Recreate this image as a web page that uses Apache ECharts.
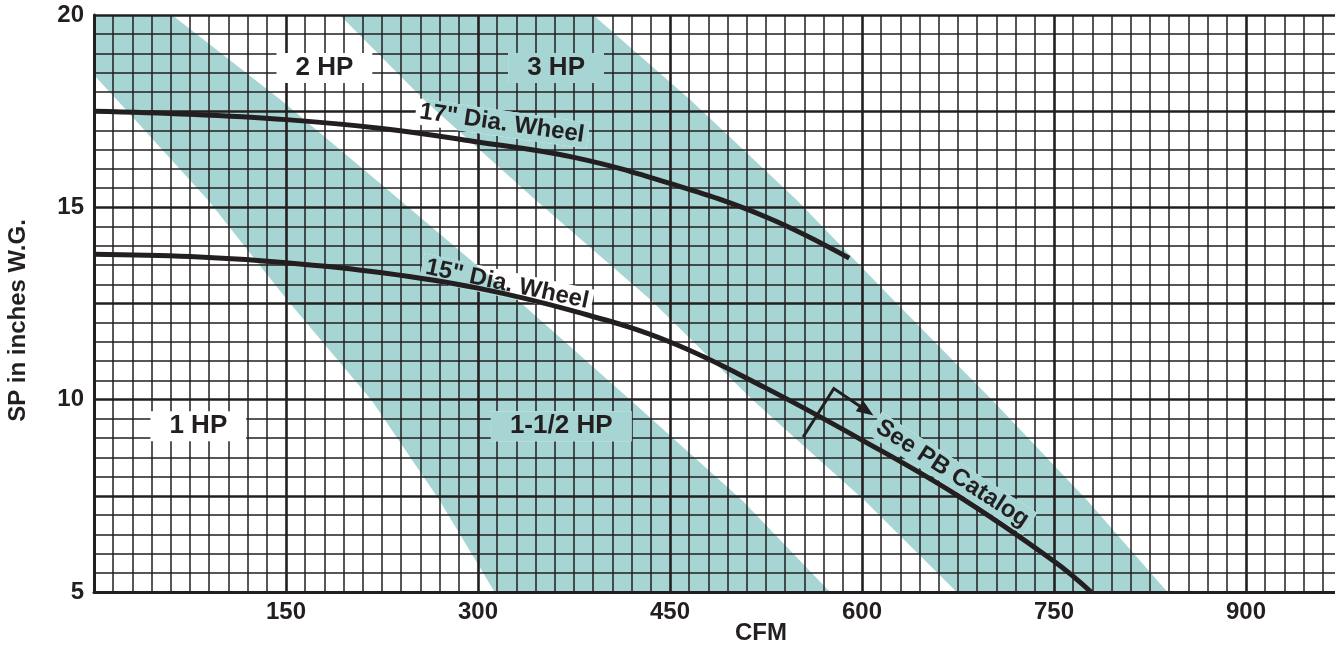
<!DOCTYPE html>
<html><head><meta charset="utf-8">
<script src="https://cdn.jsdelivr.net/npm/echarts@6/dist/echarts.min.js"></script>
<style>html,body{margin:0;padding:0;background:#fff}#c{width:1335px;height:645px}</style>
</head><body><div id="c"></div>
<script>
// ---------- data ----------
const xTickLabels = [150, 300, 450, 600, 750, 900];
const yTickLabels = [5, 10, 15, 20];

// wheel performance curves [CFM, SP]
const wheel17 = [[0,17.5],[75,17.42],[150,17.28],[225,17.05],[300,16.7],[375,16.3],[450,15.62],[525,14.75],[590,13.68]];
const wheel15 = [[0,13.78],[75,13.72],[150,13.56],[225,13.3],[300,12.9],[375,12.3],[450,11.5],[525,10.3],[600,8.95],[675,7.5],[750,5.8],[779,5.0]];

// horsepower bands: edges [CFM, SP], top to bottom
const band1Left  = [[0,20],[0,18.44],[18,17.79],[89,15.19],[151,12.59],[217,9.98],[270,7.38],[313,5]];
const band1Right = [[61,20],[146,17.79],[239,15.19],[331,12.59],[419.5,9.98],[506.5,7.38],[575,5]];
const band2Left  = [[192,20],[258,17.79],[345,15.19],[435,12.59],[515,9.98],[602,7.38],[674,5]];
const band2Right = [[390,20],[466,17.79],[549,15.19],[624.5,12.59],[702,9.98],[776,7.38],[838.6,5]];

// annotations
const noteTexts = ['2 HP', '3 HP', '1 HP', '1-1/2 HP', '17" Dia. Wheel', '15" Dia. Wheel', 'See PB Catalog'];
const noteX     = [180, 361, 81.5, 365, 318.7, 322.7, 670.6];
const noteY     = [18.62, 18.62, 9.31, 9.31, 17.18, 13.0, 8.08];
const noteAngle = [0, 0, 0, 0, -8.2, -12, -33];
const noteKind  = ['hp', 'hp', 'hp', 'hp', 'curve', 'curve', 'curve'];
const arrowPath = [[554, 9.03], [578, 10.29], [609, 9.59]];

// ---------- styles ----------
const INK = '#231f20';
const TEAL = '#a7d5d4';
const FAMILY = '"Liberation Sans", Arial, Helvetica, sans-serif';
const noteStyle = { hp: { size: 26, padX: 19, padY: 2 }, curve: { size: 24, padX: 4, padY: 1 } };

const bandPolys = [
  band1Left.concat(band1Right.slice().reverse()),
  band2Left.concat(band2Right.slice().reverse())
];

const mctx = document.createElement('canvas').getContext('2d');
function textWidth(t, font) { mctx.font = font; return mctx.measureText(t).width; }

function clipPoly(subject, clip, center) {
  let out = subject;
  for (let i = 0; i < clip.length; i++) {
    const A = clip[i], B = clip[(i + 1) % clip.length];
    const cr = p => (B[0] - A[0]) * (p[1] - A[1]) - (B[1] - A[1]) * (p[0] - A[0]);
    const sgn = cr(center) >= 0 ? 1 : -1;
    const inside = p => cr(p) * sgn >= 0;
    const inter = (P, Q) => {
      const a = cr(P), b = cr(Q);
      const t = a / (a - b);
      return [P[0] + t * (Q[0] - P[0]), P[1] + t * (Q[1] - P[1])];
    };
    const input = out; out = [];
    if (!input.length) break;
    for (let j = 0; j < input.length; j++) {
      const P = input[j], Q = input[(j + 1) % input.length];
      const pin = inside(P), qin = inside(Q);
      if (pin) { out.push(P); if (!qin) out.push(inter(P, Q)); }
      else if (qin) { out.push(inter(P, Q)); }
    }
  }
  return out;
}

function noteGeom(i, api) {
  const c = api.coord([noteX[i], noteY[i]]);
  const st = noteStyle[noteKind[i]];
  const font = 'bold ' + st.size + 'px ' + FAMILY;
  const w = textWidth(noteTexts[i], font);
  const hw = w / 2 + st.padX, hh = st.size / 2 + st.padY;
  const r = noteAngle[i] * Math.PI / 180;
  const d = [Math.cos(r), -Math.sin(r)], n = [Math.sin(r), Math.cos(r)];
  const rect = [[-1,-1],[1,-1],[1,1],[-1,1]].map(([a, b]) =>
    [c[0] + a * hw * d[0] + b * hh * n[0], c[1] + a * hw * d[1] + b * hh * n[1]]);
  return { c, font, r, rect };
}

const noteData = noteTexts.map((t, i) => [noteX[i], noteY[i], i]);

const chart = echarts.init(document.getElementById('c'), null, { renderer: 'canvas' });
chart.setOption({
  animation: false,
  backgroundColor: '#fff',
  grid: { left: 94, top: 15, width: 1344, height: 577, outerBoundsMode: 'none', containLabel: false },
  xAxis: {
    type: 'value', min: 0, max: 1050, interval: 150, z: 3,
    axisLine: { show: true, onZero: false, lineStyle: { color: INK, width: 3 } },
    axisTick: { show: false },
    axisLabel: { fontSize: 24, fontWeight: 'bold', color: INK, fontFamily: FAMILY, margin: 8,
      formatter: v => xTickLabels.includes(v) ? String(v) : '' },
    splitLine: { show: true, lineStyle: { color: INK, width: 2.6 } },
    minorTick: { show: false, splitNumber: 10 },
    minorSplitLine: { show: true, lineStyle: { color: INK, width: 1.5 } },
    name: 'CFM', nameLocation: 'middle', nameGap: 29, nameMoveOverlap: false,
    nameTextStyle: { fontSize: 24, fontWeight: 'bold', color: INK, fontFamily: FAMILY, padding: [0, 10, 0, 0] }
  },
  yAxis: {
    type: 'value', min: 5, max: 20, interval: 2.5, z: 3,
    axisLine: { show: true, onZero: false, lineStyle: { color: INK, width: 3 } },
    axisTick: { show: false },
    axisLabel: { fontSize: 24, fontWeight: 'bold', color: INK, fontFamily: FAMILY, margin: 10,
      formatter: v => yTickLabels.includes(v) ? String(v) : '' },
    splitLine: { show: true, lineStyle: { color: INK, width: 2.6 } },
    minorTick: { show: false, splitNumber: 5 },
    minorSplitLine: { show: true, lineStyle: { color: INK, width: 1.5 } },
    name: 'SP in inches W.G.', nameLocation: 'middle', nameGap: 64, nameRotate: 90, nameMoveOverlap: false,
    nameTextStyle: { fontSize: 24, fontWeight: 'bold', color: INK, fontFamily: FAMILY, padding: [0, 34, 0, 0] }
  },
  series: [
    {
      type: 'custom', z: 1, clip: true,
      data: bandPolys.map((p, i) => [p[0][0], p[0][1], i]),
      encode: { x: 0, y: 1 },
      renderItem: (params, api) => ({
        type: 'polygon',
        shape: { points: bandPolys[params.dataIndex].map(p => api.coord(p)) },
        style: { fill: TEAL }
      })
    },
    {
      type: 'custom', z: 4,
      data: noteData, encode: { x: 0, y: 1 },
      renderItem: (params, api) => {
        const g = noteGeom(params.dataIndex, api);
        const children = [{ type: 'polygon', shape: { points: g.rect }, style: { fill: '#fff' } }];
        bandPolys.forEach(bp => {
          const px = bp.map(p => api.coord(p));
          const cl = clipPoly(px, g.rect, g.c);
          if (cl.length > 2) children.push({ type: 'polygon', shape: { points: cl }, style: { fill: TEAL } });
        });
        return { type: 'group', children };
      }
    },
    {
      type: 'line', z: 5, data: wheel17, smooth: 0.4, symbol: 'none',
      lineStyle: { color: INK, width: 5 }
    },
    {
      type: 'line', z: 5, data: wheel15, smooth: 0.4, symbol: 'none',
      lineStyle: { color: INK, width: 5 }
    },
    {
      type: 'custom', z: 5,
      data: [[arrowPath[0][0], arrowPath[0][1]]], encode: { x: 0, y: 1 },
      renderItem: (params, api) => {
        const pts = arrowPath.map(p => api.coord(p));
        const a = pts[pts.length - 2], b = pts[pts.length - 1];
        const L = Math.hypot(b[0] - a[0], b[1] - a[1]);
        const ux = (b[0] - a[0]) / L, uy = (b[1] - a[1]) / L;
        const hl = 17, hw = 6.5;
        const base = [b[0] - ux * hl, b[1] - uy * hl];
        const line = pts.slice(0, -1).concat([[b[0] - ux * hl * 0.6, b[1] - uy * hl * 0.6]]);
        return { type: 'group', children: [
          { type: 'polyline', shape: { points: line }, style: { stroke: INK, lineWidth: 3, fill: null, lineJoin: 'miter' } },
          { type: 'polygon', shape: { points: [b, [base[0] - uy * hw, base[1] + ux * hw], [base[0] + uy * hw, base[1] - ux * hw]] }, style: { fill: INK } }
        ] };
      }
    },
    {
      type: 'custom', z: 6,
      data: noteData, encode: { x: 0, y: 1 },
      renderItem: (params, api) => {
        const i = params.dataIndex;
        const g = noteGeom(i, api);
        return {
          type: 'text', x: g.c[0], y: g.c[1], rotation: g.r,
          style: { text: noteTexts[i], font: g.font, fill: INK, align: 'center', verticalAlign: 'middle',
                   textAlign: 'center', textVerticalAlign: 'middle' }
        };
      }
    }
  ]
});
</script>
</body></html>
